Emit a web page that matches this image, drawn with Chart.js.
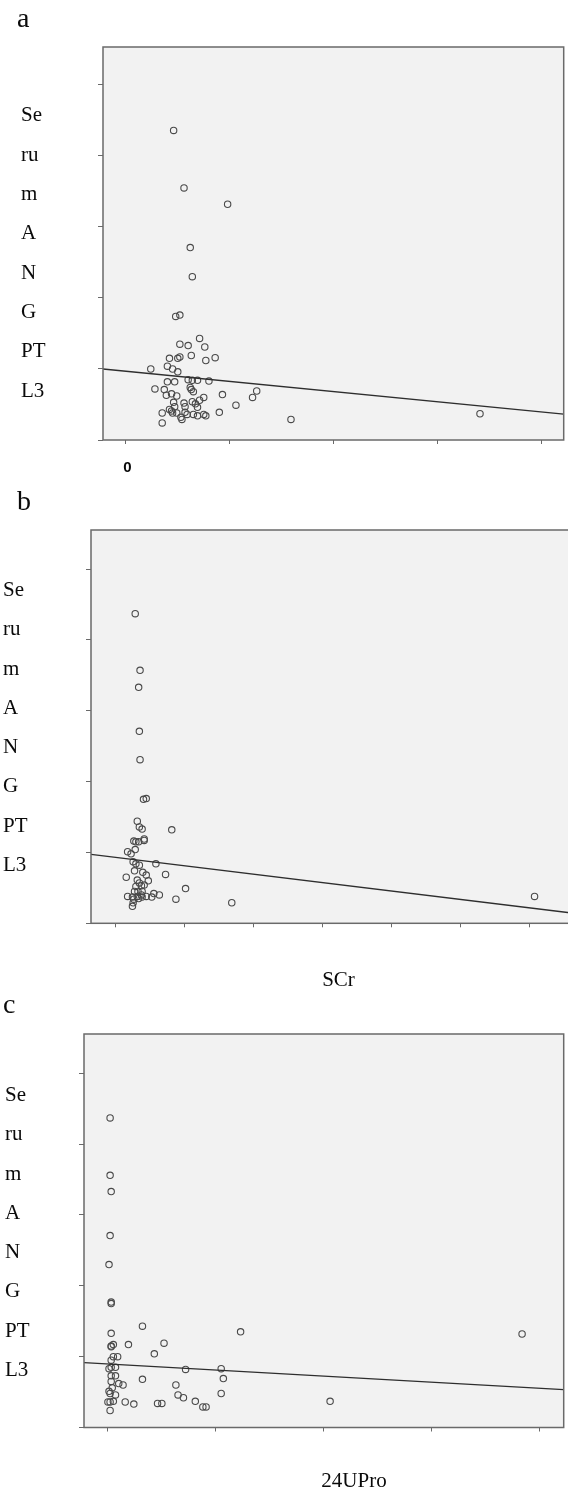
<!DOCTYPE html>
<html><head><meta charset="utf-8">
<script src="https://cdn.jsdelivr.net/npm/chart.js@4.4.1/dist/chart.umd.min.js"></script>
<style>
html,body{margin:0;padding:0;width:568px;height:1492px;overflow:hidden;background:#fff;}
.box{position:absolute;left:0;}
.t{position:absolute;font-family:"Liberation Serif","Times New Roman",serif;color:#0a0a0a;line-height:0;white-space:nowrap;}
</style></head><body>
<div class="box" style="top:0px"><canvas id="ca" width="568" height="480"></canvas></div>
<div class="box" style="top:480px"><canvas id="cb" width="600" height="480"></canvas></div>
<div class="box" style="top:960px"><canvas id="cc" width="568" height="532"></canvas></div>
<div id="labels"></div>
<script>
// ---- data ----
const yTicks = [0,100,200,300,400,500];
const aXTicks = [0,1,2,3,4];
const bXTicks = [0,1,2,3,4,5,6];
const cXTicks = [0,1,2,3,4];

const aX = [0.46,0.56,0.98,0.62,0.64,0.48,0.52,0.71,0.52,0.60,0.76,0.42,0.52,0.50,0.63,0.77,0.86,0.24,0.40,0.45,0.50,0.40,0.47,0.60,0.64,0.69,0.80,0.62,0.63,0.28,0.37,0.65,0.39,0.44,0.49,0.93,0.75,1.26,1.22,0.46,0.47,0.56,0.57,0.64,0.67,0.71,0.69,1.06,0.42,0.44,0.45,0.35,0.49,0.57,0.59,0.65,0.69,0.75,0.77,0.90,0.54,0.53,0.35,1.59,3.41];
const aY = [436,355,332,271,230,174,176,143,135,133,131,115,117,115,119,112,116,100,104,100,96,82,82,85,84,84,83,74,71,72,71,68,63,65,62,64,60,69,60,53,47,52,47,54,51,56,46,49,43,41,38,38,38,39,36,36,34,36,34,39,29,32,24,29,37];
const aLineX = [-0.22, 4.216];
const aLineY = [100, 36.3];

const bX = [0.29,0.36,0.34,0.35,0.36,0.41,0.45,0.32,0.35,0.39,0.82,0.27,0.30,0.42,0.42,0.34,0.18,0.23,0.29,0.26,0.30,0.35,0.59,0.16,0.28,0.40,0.45,0.48,0.73,0.32,0.35,0.30,0.38,0.42,0.28,0.33,0.39,1.02,0.18,0.25,0.32,0.38,0.45,0.53,0.56,0.64,0.27,0.34,0.39,0.88,0.26,0.25,1.69,6.08];
const bY = [437,357,333,271,231,175,176,144,136,133,132,116,115,119,117,115,101,98,104,87,84,82,84,65,74,72,68,60,69,61,57,52,53,54,45,45,45,49,38,37,38,40,38,37,42,40,34,35,37,34,29,24,29,38];
const bLineX = [-0.351, 6.739];
const bLineY = [97.4, 13.1];

const cX = [0.02,0.02,0.03,0.02,0.01,0.03,0.03,0.32,0.03,1.23,3.84,0.03,0.05,0.03,0.19,0.52,0.43,0.09,0.05,0.03,0.01,0.03,0.07,0.72,1.05,0.03,0.07,0.32,1.07,0.03,0.10,0.14,0.63,0.04,0.01,0.02,0.07,0.65,0.70,1.05,0.00,0.02,0.05,0.16,0.24,0.46,0.50,0.81,2.06,0.88,0.91,0.02];
const cY = [437,356,333,271,230,175,177,143,133,135,132,115,117,114,117,119,104,100,100,95,83,85,85,82,83,73,73,68,69,65,62,60,60,56,51,48,46,46,42,48,36,36,37,36,33,34,34,37,37,29,29,24];
const cLineX = [-0.222, 4.226];
const cLineY = [91.5, 53.6];

const yLetters = ['Se','ru','m','A','N','G','PT','L3'];

// ---- drawing ----
const framePlugin = {
  id:'frame',
  beforeDraw(c){const a=c.chartArea,x=c.ctx;x.save();x.fillStyle='#f2f2f2';x.fillRect(a.left,a.top,a.right-a.left,a.bottom-a.top);x.restore();},
  afterDraw(c){const a=c.chartArea,x=c.ctx;x.save();x.strokeStyle='#6a6a6a';x.lineWidth=1.5;x.strokeRect(a.left,a.top,a.right-a.left,a.bottom-a.top);x.restore();}
};

function make(id, xs, ys, lx, ly, xmin, xmax, xticks, ymax, pad){
  const pts = xs.map((v,i)=>({x:v,y:ys[i]}));
  const line = lx.map((v,i)=>({x:v,y:ly[i]}));
  new Chart(document.getElementById(id), {
    type:'scatter',
    data:{datasets:[
      {data:pts, pointRadius:3.2, pointHoverRadius:3.2, borderColor:'#4a4a4a', backgroundColor:'rgba(0,0,0,0)', borderWidth:1.1, order:2},
      {type:'line', data:line, borderColor:'#2e2e2e', borderWidth:1.3, pointRadius:0, showLine:true, fill:false, tension:0, order:1}
    ]},
    options:{
      responsive:false, animation:false, devicePixelRatio:1,
      layout:{padding:pad},
      plugins:{legend:{display:false}, tooltip:{enabled:false}},
      scales:{
        x:{type:'linear', min:xmin, max:xmax,
           afterBuildTicks:s=>{s.ticks=xticks.map(v=>({value:v}));},
           afterFit:s=>{s.height=5;},
           grid:{display:true, drawOnChartArea:false, drawTicks:true, tickLength:4, color:'#6a6a6a', lineWidth:1},
           border:{display:false}, ticks:{display:false}},
        y:{type:'linear', min:0, max:ymax,
           afterBuildTicks:s=>{s.ticks=yTicks.map(v=>({value:v}));},
           afterFit:s=>{s.width=6;},
           grid:{display:true, drawOnChartArea:false, drawTicks:true, tickLength:5, color:'#6a6a6a', lineWidth:1},
           border:{display:false}, ticks:{display:false}}
      }
    },
    plugins:[framePlugin]
  });
}

make('ca', aX, aY, aLineX, aLineY, -0.22, 4.216, aXTicks, 553.5, {left:97, top:47, right:1, bottom:35});
make('cb', bX, bY, bLineX, bLineY, -0.351, 6.739, bXTicks, 555.1, {left:85, top:50, right:20, bottom:31.7});
make('cc', cX, cY, cLineX, cLineY, -0.222, 4.226, cXTicks, 555.5, {left:78, top:74, right:4, bottom:59.5});

// ---- text ----
const L = document.getElementById('labels');
function txt(s, left, baseline, size, extra){
  const d = document.createElement('div');
  d.className = 't';
  d.textContent = s;
  d.style.fontSize = size + 'px';
  d.style.left = left + 'px';
  d.style.top = (baseline - 0.3375*size) + 'px';
  if (extra) Object.assign(d.style, extra);
  L.appendChild(d);
  return d;
}
txt('a', 17, 27, 28);
txt('b', 17, 510, 28);
txt('c', 3, 1013, 28);
[[21,121.5],[3,596],[5,1101]].forEach(([lx,b0])=>{
  yLetters.forEach((s,i)=>txt(s, lx, b0 + 39.3*i, 21));
});
txt('SCr', 338.5, 986, 21, {transform:'translateX(-50%)'});
txt('24UPro', 354, 1487, 21, {transform:'translateX(-50%)'});
txt('0', 127.5, 472, 15, {transform:'translateX(-50%)', fontFamily:'"Liberation Sans", Arial, sans-serif', fontWeight:'bold', top:(472-0.3465*15)+'px'});
</script>
</body></html>
